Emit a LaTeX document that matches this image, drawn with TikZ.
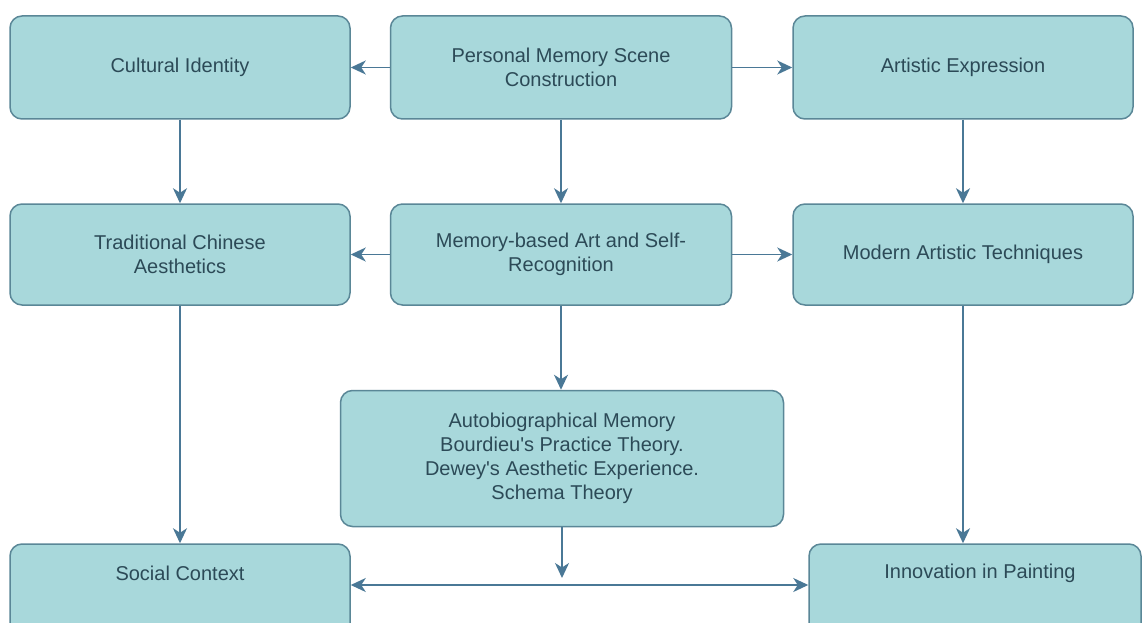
\documentclass[tikz,border=0pt]{standalone}
\usepackage{fontspec}
\setmainfont{Liberation Sans}
\usetikzlibrary{arrows.meta}
\definecolor{boxfill}{HTML}{A8D8DB}
\definecolor{boxline}{HTML}{5A8797}
\definecolor{arrowcol}{HTML}{4A7896}
\definecolor{txtcol}{HTML}{2C4A57}
\tikzset{
  box/.style={rectangle, rounded corners=12pt, draw=boxline, fill=boxfill, line width=1.5pt,
    text=txtcol, align=center, font=\fontsize{20}{24}\selectfont, inner sep=0pt},
  tip/.tip={Stealth[length=15pt,width=14pt,inset=4.5pt]},
  conn/.style={draw=arrowcol, line width=1.7pt, -tip},
  dconn/.style={draw=arrowcol, line width=1.7pt, tip-tip},
  lbl/.style={text=txtcol, font=\fontsize{20}{24}\selectfont}
}
\begin{document}
\begin{tikzpicture}[x=1pt,y=-1pt]
\clip (0,0) rectangle (1142,623);
\fill[white] (0,0) rectangle (1142,623);
\node[box, minimum width=340, minimum height=103] (ci) at (180,67.5) {Cultural Identity};
\node[box, minimum width=341, minimum height=103] (pm) at (561,67.5) {Personal Memory Scene\\Construction};
\node[box, minimum width=340, minimum height=103] (ae) at (963,67.5) {Artistic Expression};
\node[box, minimum width=340, minimum height=101] (tc) at (180,254.5) {Traditional Chinese\\Aesthetics};
\node[box, minimum width=341, minimum height=101] (mb) at (561,254.5) {Memory-based Art and Self-\\Recognition};
\node[box, minimum width=443, minimum height=136] (ab) at (562,458.5) {Autobiographical Memory\\Bourdieu\textquotesingle s Practice Theory.\\Dewey\textquotesingle s Aesthetic Experience.\\Schema Theory};
\node[box, minimum width=340, minimum height=101] (ma) at (963,254.5) {Modern Artistic Techniques};
\node[box, minimum width=340, minimum height=103] (sc) at (180,595.5) {};
\node[lbl] (sct) at (180,573.5) {Social Context};
\node[box, minimum width=332, minimum height=103] (ip) at (975,595.5) {};
\node[lbl] (ipt) at (980,573.5) {Innovation in Painting};
\coordinate (abend) at (562,578);

\draw[conn] (pm.west) -- (ci.east);
\draw[conn] (pm.east) -- (ae.west);
\draw[conn] (ci.south) -- (tc.north);
\draw[conn] (pm.south) -- (mb.north);
\draw[conn] (ae.south) -- (ma.north);
\draw[conn] (mb.west) -- (tc.east);
\draw[conn] (mb.east) -- (ma.west);
\draw[conn] (mb.south) -- (mb.south |- ab.north);
\draw[conn] (tc.south) -- (sc.north);
\draw[conn] (ma.south) -- (ma.south |- ip.north);
\draw[conn] (ab.south) -- (abend);
\draw[dconn] (sc.east |- 0,585) -- (ip.west |- 0,585);
\end{tikzpicture}
\end{document}
